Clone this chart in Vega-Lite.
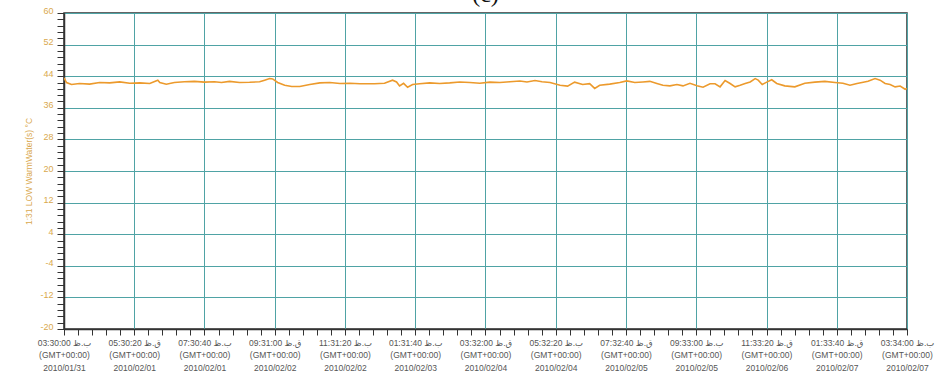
{
  "$schema": "https://vega.github.io/schema/vega-lite/v6.json",
  "autosize": "none",
  "width": 843,
  "height": 316,
  "padding": {"left": 64, "top": 13, "right": 31, "bottom": 47},
  "background": "white",
  "title": {"text": "(c)", "font": "Liberation Serif", "fontSize": 24, "fontWeight": "normal", "color": "#111", "anchor": "middle", "baseline": "top", "offset": -1},
  "config": {
    "view": {"stroke": "#333", "strokeWidth": 1.5}
  },
  "data": {"values": [
    {"h": 0, "temp": 43.6}, {"h": 0.5, "temp": 42.4}, {"h": 1.5, "temp": 41.9}, {"h": 3.1, "temp": 42.15},
    {"h": 5.1, "temp": 42.0}, {"h": 7.1, "temp": 42.4}, {"h": 9.1, "temp": 42.3}, {"h": 11.1, "temp": 42.55},
    {"h": 13.1, "temp": 42.2}, {"h": 15.1, "temp": 42.3}, {"h": 17.1, "temp": 42.15}, {"h": 18.7, "temp": 43.0},
    {"h": 19.1, "temp": 42.4}, {"h": 20.4, "temp": 41.95}, {"h": 22.0, "temp": 42.4}, {"h": 24.0, "temp": 42.6},
    {"h": 26.0, "temp": 42.7}, {"h": 28.0, "temp": 42.5}, {"h": 30.0, "temp": 42.6}, {"h": 31.4, "temp": 42.4},
    {"h": 33.0, "temp": 42.7}, {"h": 35.0, "temp": 42.4}, {"h": 37.0, "temp": 42.45}, {"h": 39.0, "temp": 42.6},
    {"h": 40.0, "temp": 43.0}, {"h": 41.0, "temp": 43.4}, {"h": 41.6, "temp": 43.3}, {"h": 42.6, "temp": 42.4},
    {"h": 44.0, "temp": 41.7}, {"h": 45.4, "temp": 41.4}, {"h": 47.0, "temp": 41.4}, {"h": 49.0, "temp": 41.9},
    {"h": 51.0, "temp": 42.3}, {"h": 53.0, "temp": 42.4}, {"h": 55.0, "temp": 42.15}, {"h": 57.0, "temp": 42.2},
    {"h": 59.0, "temp": 42.1}, {"h": 61.9, "temp": 42.1}, {"h": 63.9, "temp": 42.2}, {"h": 65.5, "temp": 43.0},
    {"h": 66.3, "temp": 42.55}, {"h": 66.9, "temp": 41.55}, {"h": 67.7, "temp": 42.2}, {"h": 68.5, "temp": 41.2},
    {"h": 69.5, "temp": 41.9}, {"h": 70.9, "temp": 42.1}, {"h": 72.9, "temp": 42.3}, {"h": 74.9, "temp": 42.15},
    {"h": 76.9, "temp": 42.3}, {"h": 78.9, "temp": 42.55}, {"h": 80.9, "temp": 42.4}, {"h": 82.9, "temp": 42.2},
    {"h": 84.9, "temp": 42.5}, {"h": 86.9, "temp": 42.4}, {"h": 88.9, "temp": 42.6}, {"h": 90.9, "temp": 42.8},
    {"h": 92.3, "temp": 42.55}, {"h": 93.9, "temp": 42.9}, {"h": 95.3, "temp": 42.6}, {"h": 96.9, "temp": 42.4},
    {"h": 98.9, "temp": 41.7}, {"h": 100.4, "temp": 41.5}, {"h": 101.8, "temp": 42.5}, {"h": 103.4, "temp": 41.9},
    {"h": 104.8, "temp": 42.1}, {"h": 105.8, "temp": 40.9}, {"h": 106.8, "temp": 41.7}, {"h": 108.8, "temp": 42.0},
    {"h": 110.8, "temp": 42.4}, {"h": 112.2, "temp": 42.8}, {"h": 113.8, "temp": 42.4}, {"h": 115.4, "temp": 42.55},
    {"h": 116.8, "temp": 42.7}, {"h": 118.2, "temp": 42.15}, {"h": 119.4, "temp": 41.7}, {"h": 120.8, "temp": 41.55},
    {"h": 122.2, "temp": 41.9}, {"h": 123.4, "temp": 41.55}, {"h": 124.8, "temp": 42.2}, {"h": 126.2, "temp": 41.6},
    {"h": 127.4, "temp": 41.2}, {"h": 128.8, "temp": 42.1}, {"h": 129.8, "temp": 42.1}, {"h": 130.8, "temp": 41.3},
    {"h": 131.8, "temp": 42.9}, {"h": 132.8, "temp": 42.15}, {"h": 133.8, "temp": 41.3}, {"h": 134.8, "temp": 41.7},
    {"h": 135.8, "temp": 42.15}, {"h": 136.8, "temp": 42.55}, {"h": 137.8, "temp": 43.4}, {"h": 138.4, "temp": 43.0},
    {"h": 139.2, "temp": 41.9}, {"h": 140.1, "temp": 42.5}, {"h": 141.1, "temp": 43.1}, {"h": 142.1, "temp": 42.15},
    {"h": 143.7, "temp": 41.55}, {"h": 145.7, "temp": 41.3}, {"h": 147.7, "temp": 42.2}, {"h": 149.7, "temp": 42.5},
    {"h": 151.7, "temp": 42.7}, {"h": 153.7, "temp": 42.4}, {"h": 155.3, "temp": 42.2}, {"h": 156.7, "temp": 41.7},
    {"h": 158.1, "temp": 42.15}, {"h": 159.1, "temp": 42.4}, {"h": 160.3, "temp": 42.7}, {"h": 161.7, "temp": 43.4},
    {"h": 162.7, "temp": 43.0}, {"h": 163.7, "temp": 42.15}, {"h": 164.7, "temp": 41.9}, {"h": 165.7, "temp": 41.3},
    {"h": 166.7, "temp": 41.5}, {"h": 167.7, "temp": 40.7}, {"h": 168.0667, "temp": 40.9}
  ]},
  "mark": {"type": "line", "color": "#ec9a2c", "strokeWidth": 1.6, "clip": true},
  "encoding": {
    "x": {
      "field": "h", "type": "quantitative",
      "scale": {"domain": [0, 168.066667], "nice": false, "zero": false},
      "axis": {
        "title": null,
        "values": [0, 2.801111, 5.602222, 8.403333, 11.204444, 14.005556, 16.806667, 19.607778, 22.408889, 25.21, 28.011111, 30.812222, 33.613333, 36.414444, 39.215556, 42.016667, 44.817778, 47.618889, 50.42, 53.221111, 56.022222, 58.823333, 61.624444, 64.425556, 67.226667, 70.027778, 72.828889, 75.63, 78.431111, 81.232222, 84.033333, 86.834444, 89.635556, 92.436667, 95.237778, 98.038889, 100.84, 103.641111, 106.442222, 109.243333, 112.044444, 114.845556, 117.646667, 120.447778, 123.248889, 126.05, 128.851111, 131.652222, 134.453333, 137.254444, 140.055556, 142.856667, 145.657778, 148.458889, 151.26, 154.061111, 156.862222, 159.663333, 162.464444, 165.265556, 168.066667],
        "labelExpr": "abs(datum.value/14.0055556 - round(datum.value/14.0055556)) < 0.01 ? [utcFormat(round(datum.value*3600)*1000 + 1264951800000, '%I:%M:%S') + (utchours(round(datum.value*3600)*1000 + 1264951800000) < 12 ? ' ق.ظ' : ' ب.ظ'), '(GMT+00:00)', utcFormat(round(datum.value*3600)*1000 + 1264951800000, '%Y/%m/%d')] : ''",
        "labelOverlap": false,
        "labelFlush": false,
        "labelFont": "Liberation Sans, DejaVu Sans",
        "labelFontSize": 8.5,
        "labelColor": "#555",
        "labelLineHeight": 12.5,
        "labelPadding": 3,
        "tickColor": "#333",
        "tickSize": 6,
        "domainColor": "#333",
        "domainWidth": 1.5,
        "grid": true,
        "gridColor": "#4fa3a5",
        "gridWidth": 1,
        "gridOpacity": {"condition": {"test": "abs(datum.value/14.0055556 - round(datum.value/14.0055556)) < 0.01", "value": 1}, "value": 0}
      }
    },
    "y": {
      "field": "temp", "type": "quantitative",
      "scale": {"domain": [-20, 60], "nice": false, "zero": false},
      "axis": {
        "title": "1:31 LOW WarmWater(s) °C",
        "titleFont": "Liberation Sans",
        "titleFontSize": 8.5,
        "titleFontWeight": "normal",
        "titleColor": "#d9a84e",
        "titlePadding": 6,
        "values": [-20, -18.4, -16.8, -15.2, -13.6, -12, -10.4, -8.8, -7.2, -5.6, -4, -2.4, -0.8, 0.8, 2.4, 4, 5.6, 7.2, 8.8, 10.4, 12, 13.6, 15.2, 16.8, 18.4, 20, 21.6, 23.2, 24.8, 26.4, 28, 29.6, 31.2, 32.8, 34.4, 36, 37.6, 39.2, 40.8, 42.4, 44, 45.6, 47.2, 48.8, 50.4, 52, 53.6, 55.2, 56.8, 58.4, 60],
        "labelExpr": "abs((datum.value + 20) % 8) < 0.001 ? datum.value : ''",
        "labelOverlap": false,
        "labelFlush": false,
        "labelFont": "Liberation Sans",
        "labelFontSize": 9,
        "labelColor": "#d9a84e",
        "labelBaseline": "alphabetic",
        "labelPadding": 4,
        "tickColor": "#333",
        "tickSize": 7,
        "domainColor": "#333",
        "domainWidth": 1.5,
        "grid": true,
        "gridColor": "#4fa3a5",
        "gridWidth": 1,
        "gridOpacity": {"condition": {"test": "abs((datum.value + 20) % 8) < 0.001", "value": 1}, "value": 0}
      }
    }
  }
}
